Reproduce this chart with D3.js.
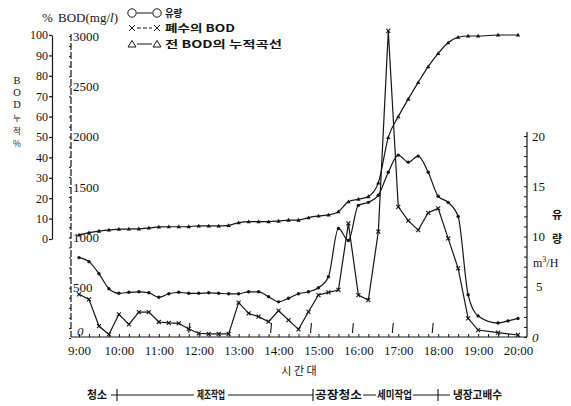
<!DOCTYPE html>
<html>
<head>
<meta charset="utf-8">
<script src="https://cdn.jsdelivr.net/npm/d3@7"></script>
<style>
  body { margin: 0; background: #fff; }
  svg text { fill: #141414; }
  .num { font-family: "Liberation Serif", "Times New Roman", "DejaVu Serif", serif; font-size: 13px; }
  .kr { font-family: "Noto Sans CJK KR", sans-serif; }
</style>
</head>
<body>
<div id="chart"></div>
<script>
// Chart data
// =================================
var timeSlots = ["9:00", "9:15", "9:30", "9:45", "10:00", "10:15", "10:30", "10:45",
  "11:00", "11:15", "11:30", "11:45", "12:00", "12:15", "12:30", "12:45",
  "13:00", "13:15", "13:30", "13:45", "14:00", "14:15", "14:30", "14:45",
  "15:00", "15:15", "15:30", "15:45", "16:00", "16:15", "16:30", "16:45",
  "17:00", "17:15", "17:30", "17:45", "18:00", "18:15", "18:30", "18:45",
  "19:00", "19:30", "19:45", "20:00"];

// 유량 (m3/H, right axis)
var flowValues = [7.9, 7.5, 6.3, 4.8, 4.35, 4.45, 4.5, 4.4,
  3.95, 4.3, 4.45, 4.35, 4.35, 4.4, 4.35, 4.3,
  4.3, 4.5, 4.5, 4.0, 3.5, 3.85, 4.3, 4.5,
  4.9, 6.0, 10.8, 9.6, 13.1, 13.4, 14.1, 16.4,
  18.1, 17.4, 18.0, 16.4, 14.0, 13.4, 12.0, 4.2,
  2.1, 1.4, 1.6, 1.85];

// 폐수의 BOD (mg/l)
var bodValues = [434, 384, 119, 35, 235, 136, 258, 258,
  159, 150, 146, 90, 47, 40, 40, 40,
  351, 245, 212, 162, 271, 178, 86, 260,
  427, 454, 477, 1139, 427, 377, 1056, 3050,
  1303, 1165, 1072, 1244, 1288, 990, 692, 196,
  79, 53, null, 30];

// 전 BOD의 누적곡선 (%)
var cumValues = [2.0, 3.1, 3.9, 4.4, 4.8, 4.9, 5.0, 5.4,
  5.9, 6.0, 6.0, 6.1, 6.4, 6.4, 6.4, 6.7,
  8.0, 8.5, 8.5, 8.5, 8.8, 9.3, 9.3, 10.5,
  11.3, 11.8, 13.4, 18.3, 19.5, 20.8, 27.5, 49.8,
  60.0, 68.6, 76.8, 84.5, 91.0, 96.2, 98.9, 99.5,
  99.5, 100, null, 100];

var hourLabels = ["9:00", "10:00", "11:00", "12:00", "13:00", "14:00",
  "15:00", "16:00", "17:00", "18:00", "19:00", "20:00"];
var pctTicks = [0, 10, 20, 30, 40, 50, 60, 70, 80, 90, 100];
var bodTicks = [0, 500, 1000, 1500, 2000, 2500, 3000];
var flowTicks = [0, 5, 10, 15, 20];
var phaseMarks = ["11:45", "13:48", "14:48", "15:51", "16:51", "17:51"];

var legendItems = ["유량", "폐수의 BOD", "전 BOD의 누적곡선"];
var leftTitle = ["B", "O", "D", "누", "적", "%"];
var phaseLabels = ["청소", "제조작업", "공장청소", "세미작업", "냉장고배수"];

function toHours(s) {
  var p = s.split(":");
  return +p[0] + (+p[1]) / 60;
}

// Set up the chart
// =================================
var svgWidth = 571;
var svgHeight = 406;
var ink = "#141414";
var serif = '"Liberation Serif", "Times New Roman", serif';

var svg = d3.select("#chart")
  .append("svg")
  .attr("width", svgWidth)
  .attr("height", svgHeight);

var xScale = d3.scaleLinear().domain([9, 20]).range([79, 518]);
var pctScale = d3.scaleLinear().domain([0, 100]).range([239, 35]);
var bodScale = d3.scaleLinear().domain([0, 3000]).range([338, 36]);
var flowScale = d3.scaleLinear().domain([0, 20]).range([337, 136]);

// make axis text serif (d3 puts sans-serif on the group)
function serifText(g, size) {
  g.attr("font-family", serif).attr("font-size", size);
  g.selectAll("text").attr("font-family", serif).attr("font-size", size);
}

// Axes
// =================================
// x axis
svg.append("line")
  .attr("x1", 71).attr("x2", 527).attr("y1", 337).attr("y2", 337)
  .attr("stroke", ink).attr("stroke-width", 1.2);

svg.append("g")
  .attr("transform", "translate(0,337)")
  .call(d3.axisTop(xScale).tickValues(d3.range(9, 20.01, 0.25)).tickSize(3).tickFormat(""))
  .call(g => g.select(".domain").remove())
  .selectAll("line").attr("stroke", ink);

var xAxisG = svg.append("g")
  .attr("transform", "translate(0,337)")
  .call(d3.axisBottom(xScale)
    .tickValues(hourLabels.map(toHours))
    .tickFormat((d, i) => hourLabels[i])
    .tickSize(0)
    .tickPadding(9));
xAxisG.select(".domain").remove();
serifText(xAxisG, 13);

// percent axis (left)
var pctG = svg.append("g")
  .attr("transform", "translate(52,0)")
  .call(d3.axisLeft(pctScale).tickValues(pctTicks).tickSize(3).tickSizeOuter(0).tickPadding(1));
pctG.selectAll("line, path").attr("stroke", ink).attr("stroke-width", 1.2);
serifText(pctG, 12);

// BOD axis (dashed)
svg.append("line")
  .attr("x1", 71).attr("x2", 71).attr("y1", 34).attr("y2", 337)
  .attr("stroke", ink).attr("stroke-width", 1.2)
  .attr("stroke-dasharray", "7,2");

svg.append("g")
  .attr("transform", "translate(71,0)")
  .call(d3.axisLeft(bodScale).tickValues(d3.range(0, 3001, 100)).tickSize(2).tickFormat(""))
  .call(g => g.select(".domain").remove())
  .selectAll("line").attr("stroke", ink);

var bodG = svg.append("g")
  .attr("transform", "translate(71,0)")
  .call(d3.axisRight(bodScale).tickValues(bodTicks).tickFormat(d3.format("d")).tickSize(0).tickPadding(2));
bodG.select(".domain").remove();
serifText(bodG, 13);
bodG.selectAll("text")
  .filter(d => d === 0)
  .attr("font-style", "italic")
  .attr("x", 6)
  .attr("dy", "-0.2em");

// flow axis (right)
svg.append("line")
  .attr("x1", 527).attr("x2", 527).attr("y1", 132).attr("y2", 337)
  .attr("stroke", ink).attr("stroke-width", 1.2);

svg.append("g")
  .attr("transform", "translate(527,0)")
  .call(d3.axisLeft(flowScale).tickValues(d3.range(0, 20.01, 1)).tickSize(3).tickFormat(""))
  .call(g => g.select(".domain").remove())
  .selectAll("line").attr("stroke", ink);

var flowG = svg.append("g")
  .attr("transform", "translate(527,0)")
  .call(d3.axisRight(flowScale).tickValues(flowTicks).tickSize(0).tickPadding(5));
flowG.select(".domain").remove();
serifText(flowG, 13);
flowG.selectAll("text").filter(d => d === 0).attr("font-style", "italic");
flowG.selectAll("text").filter(d => d === 5).attr("x", 9);

// small phase marks along the time axis
svg.selectAll(".phase-mark")
  .data(phaseMarks)
  .enter()
  .append("line")
  .attr("x1", d => xScale(toHours(d)) + 1)
  .attr("x2", d => xScale(toHours(d)))
  .attr("y1", 323)
  .attr("y2", 333)
  .attr("stroke", ink)
  .attr("stroke-width", 1.1);

// Series
// =================================
function seriesPoints(values) {
  return timeSlots
    .map((t, i) => ({ t: toHours(t), v: values[i] }))
    .filter(d => d.v !== null);
}

var flowData = seriesPoints(flowValues);
var bodData = seriesPoints(bodValues);
var cumData = seriesPoints(cumValues);

var flowLine = d3.line().x(d => xScale(d.t)).y(d => flowScale(d.v)).curve(d3.curveMonotoneX);
var bodLine = d3.line().x(d => xScale(d.t)).y(d => bodScale(d.v));
var cumLine = d3.line().x(d => xScale(d.t)).y(d => pctScale(d.v)).curve(d3.curveMonotoneX);

[[flowData, flowLine], [bodData, bodLine], [cumData, cumLine]].forEach(function (s) {
  svg.append("path")
    .datum(s[0])
    .attr("d", s[1])
    .attr("fill", "none")
    .attr("stroke", ink)
    .attr("stroke-width", 1.2);
});

// markers
svg.selectAll(".flow-pt")
  .data(flowData)
  .enter()
  .append("circle")
  .attr("cx", d => xScale(d.t))
  .attr("cy", d => flowScale(d.v))
  .attr("r", 1.7)
  .attr("fill", ink);

svg.selectAll(".bod-pt")
  .data(bodData)
  .enter()
  .append("path")
  .attr("transform", d => `translate(${xScale(d.t)},${bodScale(d.v)})`)
  .attr("d", "M-2,-2L2,2M-2,2L2,-2")
  .attr("stroke", ink)
  .attr("stroke-width", 1.1);

svg.selectAll(".cum-pt")
  .data(cumData)
  .enter()
  .append("path")
  .attr("transform", d => `translate(${xScale(d.t)},${pctScale(d.v)})`)
  .attr("d", "M0,-2.2L2.2,1.6L-2.2,1.6Z")
  .attr("fill", ink);

// Titles and legend
// =================================
svg.append("text")
  .attr("font-family", serif).attr("font-size", 13)
  .attr("x", 42).attr("y", 22)
  .text("%");

svg.append("text")
  .attr("font-family", serif).attr("font-size", 13)
  .attr("x", 58).attr("y", 22)
  .html('BOD(mg/<tspan font-style="italic">l</tspan>)');

// left vertical title
var leftTitleY = [84, 96, 108, 121, 134, 147];
svg.selectAll(".left-title")
  .data(leftTitle)
  .enter()
  .append("text")
  .attr("class", (d, i) => i < 3 ? "num" : "kr")
  .attr("x", 17)
  .attr("y", (d, i) => leftTitleY[i])
  .attr("text-anchor", "middle")
  .style("font-size", (d, i) => i < 3 ? "10.5px" : "8.5px")
  .text(d => d);

// right title
svg.append("text").attr("class", "kr").attr("x", 557).attr("y", 219)
  .attr("text-anchor", "middle").attr("font-size", 11).attr("font-weight", "bold").text("유");
svg.append("text").attr("class", "kr").attr("x", 557).attr("y", 243)
  .attr("text-anchor", "middle").attr("font-size", 11).attr("font-weight", "bold").text("량");
svg.append("text").attr("font-family", serif).attr("x", 533).attr("y", 267)
  .attr("font-size", 12)
  .html('m<tspan dy="-5" font-size="8">3</tspan><tspan dy="5">/H</tspan>');

// legend (top)
var legendY = [13, 28, 44];
var legendWidths = [17, 70, 117];
legendItems.forEach(function (label, i) {
  var y = legendY[i];
  svg.append("line")
    .attr("x1", 137).attr("x2", 152).attr("y1", y).attr("y2", y)
    .attr("stroke", ink).attr("stroke-width", 1)
    .attr("stroke-dasharray", i === 1 ? "4,2" : null);
  [132, 157].forEach(function (cx) {
    if (i === 0) {
      svg.append("circle").attr("cx", cx).attr("cy", y).attr("r", 4.2)
        .attr("fill", "none").attr("stroke", ink).attr("stroke-width", 1);
    } else if (i === 1) {
      svg.append("path").attr("transform", `translate(${cx},${y})`)
        .attr("d", "M-3,-3L3,3M-3,3L3,-3").attr("stroke", ink).attr("stroke-width", 1);
    } else {
      svg.append("path").attr("transform", `translate(${cx},${y})`)
        .attr("d", "M0,-3.5L4,3L-4,3Z").attr("fill", "none").attr("stroke", ink).attr("stroke-width", 1);
    }
  });
  svg.append("text")
    .attr("class", "kr")
    .attr("x", 165).attr("y", y + 4)
    .attr("font-size", 10.5)
    .attr("font-weight", "bold")
    .attr("textLength", legendWidths[i])
    .attr("lengthAdjust", "spacingAndGlyphs")
    .text(label);
});

// x axis title
svg.append("text")
  .attr("class", "kr")
  .attr("x", 299).attr("y", 375)
  .attr("text-anchor", "middle")
  .attr("font-size", 11)
  .text("시 간 대");

// working phases row
var phaseX = [87, 197, 315, 377, 453];
var phaseW = [20, 28, 47, 35, 49];
phaseLabels.forEach(function (label, i) {
  svg.append("text")
    .attr("class", "kr")
    .attr("x", phaseX[i]).attr("y", 399)
    .attr("font-size", 11)
    .attr("font-weight", "bold")
    .attr("textLength", phaseW[i])
    .attr("lengthAdjust", "spacingAndGlyphs")
    .text(label);
});

var phaseRules = [[111, 194], [228, 313], [363, 376], [413, 450]];
phaseRules.forEach(function (r) {
  svg.append("line")
    .attr("x1", r[0]).attr("x2", r[1]).attr("y1", 395).attr("y2", 395)
    .attr("stroke", ink).attr("stroke-width", 1);
});
[117, 313, 438].forEach(function (x) {
  svg.append("line")
    .attr("x1", x).attr("x2", x).attr("y1", 389).attr("y2", 401)
    .attr("stroke", ink).attr("stroke-width", 1.1);
});
</script>
</body>
</html>
